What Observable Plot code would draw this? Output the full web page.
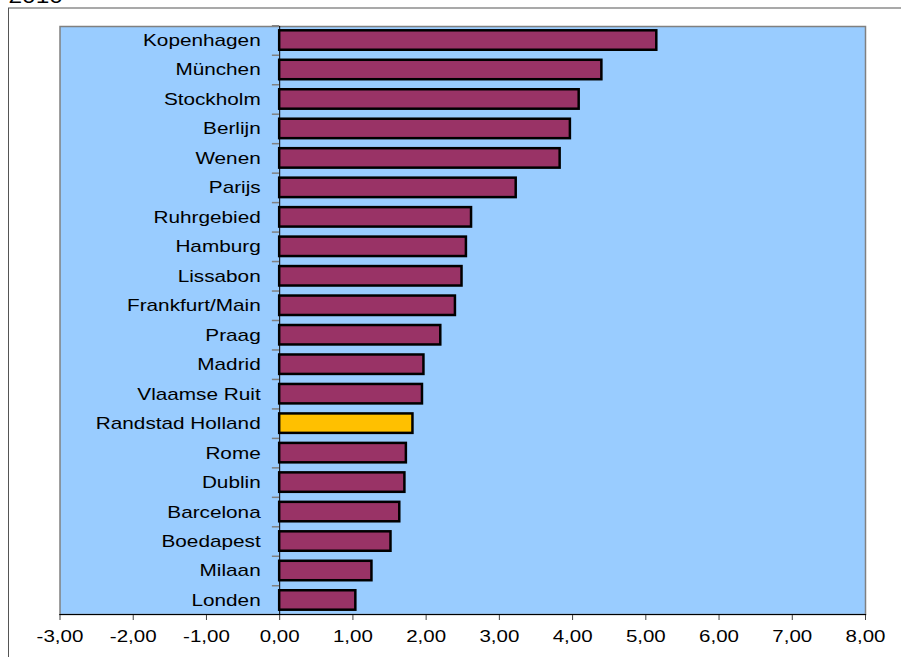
<!DOCTYPE html>
<html><head><meta charset="utf-8">
<script src="https://cdn.jsdelivr.net/npm/d3@7"></script>
<script src="https://cdn.jsdelivr.net/npm/@observablehq/plot@0.6"></script>
<style>html,body{margin:0;padding:0;background:#fff;}</style>
</head><body>
<script>
const cities = ["Kopenhagen","München","Stockholm","Berlijn","Wenen","Parijs","Ruhrgebied","Hamburg","Lissabon","Frankfurt/Main","Praag","Madrid","Vlaamse Ruit","Randstad Holland","Rome","Dublin","Barcelona","Boedapest","Milaan","Londen"];
const values = [5.15,4.40,4.09,3.97,3.83,3.23,2.62,2.55,2.49,2.40,2.20,1.97,1.95,1.82,1.73,1.71,1.64,1.52,1.26,1.04];
const highlight = "Randstad Holland";
const xTicks = [-3,-2,-1,0,1,2,3,4,5,6,7,8];
const title = "2010";

const data = cities.map((c, i) => ({city: c, value: values[i]}));
const W = 901, H = 657, mL = 59.5, mR = 36, mT = 26, mB = 43;
const pIn = 0.34, pOut = 0.146;
const step = (H - mT - mB) / (cities.length - pIn + 2 * pOut);
const fmt = d => d.toFixed(2).replace(".", ",");

const chart = Plot.plot({
  width: W, height: H,
  marginLeft: mL, marginRight: mR, marginTop: mT, marginBottom: mB,
  style: {fontFamily: "'Liberation Sans', Arial, sans-serif", fontSize: "16px", background: "#fff", color: "#000"},
  x: {domain: [-3, 8], axis: null, label: null},
  y: {domain: cities, paddingInner: pIn, paddingOuter: pOut, round: false, axis: null, label: null},
  color: {type: "identity"},
  marks: [
    Plot.frame({fill: "#99CCFF", stroke: "#808080", strokeWidth: 1.5}),
    Plot.frame({fill: "none", stroke: "#555", strokeWidth: 1, insetLeft: -51.5, insetTop: -18.5, insetRight: -60, insetBottom: -60}),
    Plot.ruleY(cities, {y: d => d, x1: d => -0.1, x2: d => 0, dy: -step / 2, stroke: "#808080", strokeWidth: 1.5}),
    Plot.ruleX([0], {stroke: "#000", strokeWidth: 1}),
    Plot.barX(data, {x: "value", y: "city", fill: d => d.city === highlight ? "#FFC000" : "#993366", stroke: "#000", strokeWidth: 2.5}),
    Plot.text(data, {x: d => 0, y: "city", text: "city", textAnchor: "end", dx: -19, fontSize: 17, fill: "#000"}),
    Plot.axisX({ticks: xTicks, tickFormat: fmt, tickSize: 6, tickPadding: 10, stroke: "#404040", fill: "#000", fontSize: 16.3, label: null}),
    Plot.frame({anchor: "bottom", stroke: "#000", strokeWidth: 1.2}),
    Plot.text([title], {text: d => d, frameAnchor: "top-left", dx: -51.5, dy: -24, lineAnchor: "bottom", textAnchor: "start", fontSize: 20, fill: "#000"})
  ]
});
document.body.append(chart);
chart.querySelectorAll("text").forEach(t => {
  const g = t.closest("g[aria-label]");
  const lab = g ? g.getAttribute("aria-label") : "";
  const f = lab.includes("tick label") ? 1.26 : 1.22;
  const len = t.getComputedTextLength();
  if (len > 0) {
    t.setAttribute("textLength", (len * f).toFixed(1));
    t.setAttribute("lengthAdjust", "spacingAndGlyphs");
  }
});
</script>
</body></html>
